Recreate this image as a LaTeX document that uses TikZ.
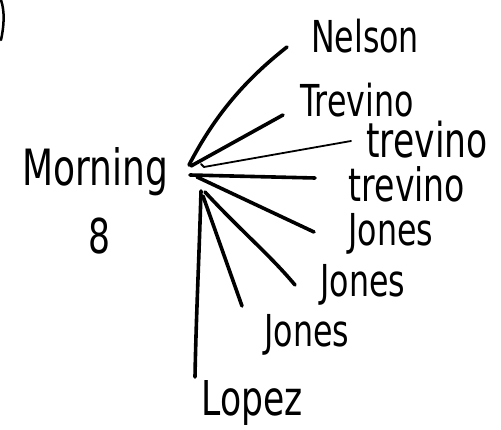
\documentclass[tikz,border=0pt]{standalone}
\usepackage{fontspec}
\newfontfamily\hand[FakeStretch=0.72]{DejaVu Sans}
\begin{document}
\begin{tikzpicture}[x=1pt,y=-1pt,
  lbl/.style={inner sep=0pt,font=\hand\fontsize{44}{44}\selectfont},
  stroke/.style={line width=3.6pt,line cap=round,black},
  thin/.style={line width=1.8pt,line cap=round,black}]
\useasboundingbox (0,0) rectangle (501,430);
% text nodes
\node[lbl,font=\hand\fontsize{50}{50}\selectfont] (morning) at (95,172) {Morning};
\node[lbl,font=\hand\fontsize{48}{48}\selectfont] (eight) at (99,236) {8};
\node[lbl] (nelson) at (365,36) {Nelson};
\node[lbl] (trev1) at (357,100) {Trevino};
\node[lbl,font=\hand\fontsize{48}{48}\selectfont] (trev2) at (427,140) {trevino};
\node[lbl,font=\hand\fontsize{46}{46}\selectfont] (trev3) at (407,184) {trevino};
\node[lbl,font=\hand\fontsize{44}{44}\selectfont] (jones1) at (391,234) {Jones};
\node[lbl,font=\hand\fontsize{44}{44}\selectfont] (jones2) at (363,285) {Jones};
\node[lbl,font=\hand\fontsize{44}{44}\selectfont] (jones3) at (307,335) {Jones};
\node[lbl,font=\hand\fontsize{48}{48}\selectfont] (lopez) at (252,403) {Lopez};
% line end points near the hub and near the labels
\coordinate (h1) at (189,165);
\coordinate (h2) at (191,166);
\coordinate (h3) at (204,167);
\coordinate (h4) at (190,175);
\coordinate (h5) at (197,177);
\coordinate (h6) at (205,192);
\coordinate (h7) at (203,196);
\coordinate (h8) at (201,191);
\coordinate (e1) at (287,47);
\coordinate (e2) at (283,115);
\coordinate (e3) at (351,141);
\coordinate (e4) at (315,178);
\coordinate (e5) at (314,232);
\coordinate (e6) at (295,285);
\coordinate (e7) at (242,306);
\coordinate (e8) at (195,377);
% connectors
\draw[stroke] (h1) .. controls (215,115) and (245,80) .. (e1);
\draw[stroke] (h2) -- (e2);
\draw[thin] (h3) -- (e3);
\draw[thin] (h3) -- ++(-3,-3);
\draw[stroke] (h4) -- (e4);
\draw[stroke] (h5) -- (e5);
\draw[stroke] (h6) .. controls (240,230) and (270,255) .. (e6);
\draw[stroke] (h7) -- (e7);
\draw[stroke] (h8) .. controls (199,260) and (196,320) .. (e8);
% stray mark at the top-left corner
\draw[thin,line width=2.5pt] (1,0) .. controls (5,12) and (4,26) .. (1,40);
\end{tikzpicture}
\end{document}
